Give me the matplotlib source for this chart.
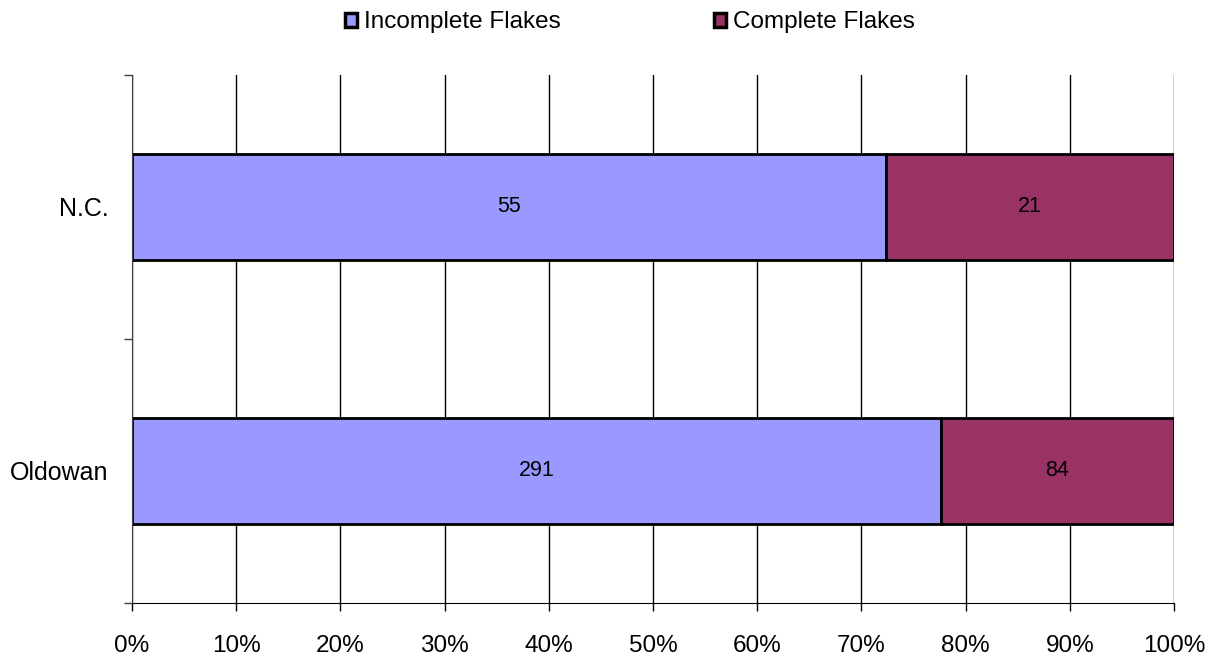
import matplotlib.pyplot as plt
import numpy as np

categorias = ["Oldowan", "N.C."]
incompletas = [291, 55]
completas = [84, 21]
series = ["Incomplete Flakes", "Complete Flakes"]
colores = ["#9999FF", "#993366"]

plt.rcParams['font.family'] = ['Liberation Sans', 'DejaVu Sans']

fig = plt.figure(figsize=(12.16, 6.56), dpi=100)
ax = fig.add_axes([0.1086, 0.0808, 0.8569, 0.8049])

inc = np.array(incompletas, dtype=float)
com = np.array(completas, dtype=float)
total = inc + com
p_inc = inc / total
p_com = com / total
y = np.arange(len(categorias)) + 0.5

ax.set_axisbelow(True)
b1 = ax.barh(y, p_inc, height=0.405, color=colores[0], edgecolor='black',
             linewidth=2, label=series[0])
b2 = ax.barh(y, p_com, left=p_inc, height=0.405, color=colores[1],
             edgecolor='black', linewidth=2, label=series[1])

for i in range(len(categorias)):
    ax.text(p_inc[i] / 2, y[i], str(incompletas[i]), ha='center', va='center', fontsize=15.5)
    ax.text(p_inc[i] + p_com[i] / 2, y[i], str(completas[i]), ha='center', va='center', fontsize=15.5)

ax.set_xlim(0, 1)
ax.set_ylim(0, 2)
ax.set_xticks(np.arange(0, 1.01, 0.1))
ax.set_xticklabels([f"{int(round(v * 100))}%" for v in np.arange(0, 1.01, 0.1)])
ax.tick_params(axis='x', length=6, width=1, labelsize=17.5, pad=17, color='black')
ax.xaxis.grid(True, color='black', linewidth=1)

ax.set_yticks([0, 1, 2])
ax.set_yticklabels([])
ax.set_yticks(y, minor=True)
ax.set_yticklabels(categorias, minor=True)
ax.tick_params(axis='y', which='major', length=6, width=1, color='#404040')
ax.tick_params(axis='y', which='minor', length=0, labelsize=18, pad=17)

for s in ['top', 'right']:
    ax.spines[s].set_visible(False)
ax.spines['left'].set_color('#404040')
ax.spines['bottom'].set_color('black')

leg = fig.legend(handles=[b1, b2], labels=series, loc='center', bbox_to_anchor=(0.518, 0.966),
                 ncol=2, frameon=False, fontsize=17.5, handlelength=0.5, handleheight=0.5,
                 handletextpad=0.3, columnspacing=6.3, borderaxespad=0)
for h in leg.legend_handles:
    h.set_linewidth(2.5)

fig.savefig("out.png", dpi=100)
